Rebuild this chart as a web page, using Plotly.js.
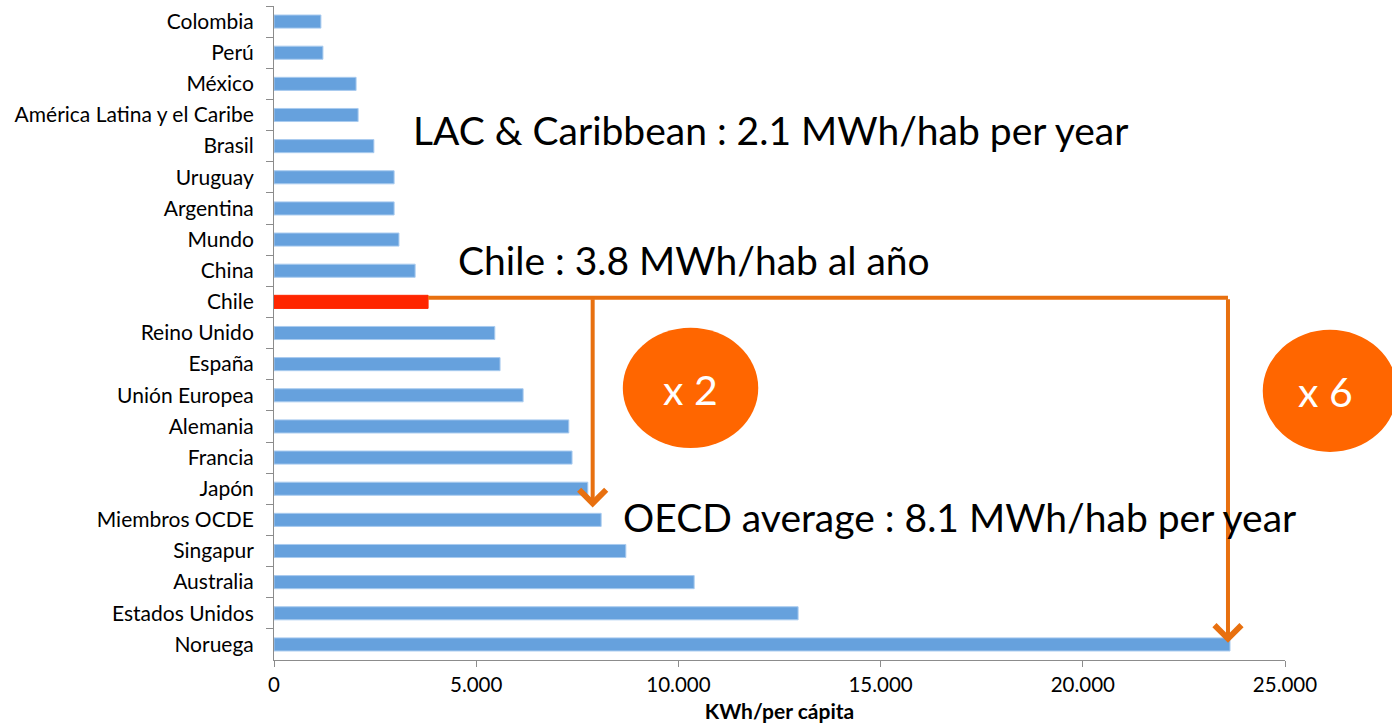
<!DOCTYPE html>
<html>
<head>
<meta charset="utf-8">
<script src="https://cdn.plot.ly/plotly-3.0.1.min.js"></script>
<style>html,body{margin:0;padding:0;background:#fff;}#chart{width:1392px;height:725px;}</style>
</head>
<body>
<div id="chart"></div>
<script>
const categories = ["Colombia","Perú","México","América Latina y el Caribe","Brasil","Uruguay","Argentina","Mundo","China","Chile","Reino Unido","España","Unión Europea","Alemania","Francia","Japón","Miembros OCDE","Singapur","Australia","Estados Unidos","Noruega"];
const kwhPerCapita = [1160,1210,2030,2080,2470,2970,2970,3090,3490,3810,5460,5590,6160,7290,7370,7760,8090,8700,10390,12960,23640];
const highlight = "Chile";
const xTickValues = [0,5000,10000,15000,20000,25000];

const FONT = "Lato, 'Open Sans', sans-serif";
const barColors = categories.map(c => c === highlight ? "#FF2600" : "#66A1DD");
const lineColors = categories.map(c => c === highlight ? "#FF2600" : "#A9CBEF");
const ORANGE = "#E8700F";
const chileIdx = categories.indexOf(highlight);
const chileVal = kwhPerCapita[chileIdx];
const oecdIdx = categories.indexOf("Miembros OCDE");
const norIdx = categories.indexOf("Noruega");
const lineY = chileIdx - 0.13;

const trace = {
  type: "bar",
  orientation: "h",
  y: categories,
  x: kwhPerCapita,
  width: 0.42,
  marker: {color: barColors, line: {color: lineColors, width: 1}},
  hoverinfo: "x+y"
};

const layout = {
  width: 1392, height: 725,
  margin: {l: 274, r: 107, t: 6, b: 65},
  paper_bgcolor: "#fff", plot_bgcolor: "#fff",
  separators: ",.",
  showlegend: false,
  font: {family: FONT, color: "#000"},
  xaxis: {
    range: [0, 25000], tickvals: xTickValues, tickformat: ",d",
    showgrid: false, zeroline: false, showline: true, linecolor: "#8C8C8C", linewidth: 1,
    ticks: "outside", ticklen: 6, tickcolor: "#8C8C8C",
    tickfont: {size: 20.5, family: FONT},
    title: {text: "<b>KWh/per cápita</b>", font: {size: 21, family: FONT}, standoff: 9},
    fixedrange: true
  },
  yaxis: {
    type: "category", categoryorder: "array", categoryarray: categories,
    autorange: "reversed",
    showgrid: false, zeroline: false, showline: true, linecolor: "#8C8C8C", linewidth: 1,
    ticks: "outside", ticklen: 7, tickcolor: "#8C8C8C", tickson: "boundaries",
    tickfont: {size: 21, family: FONT},
    ticklabelstandoff: 15,
    fixedrange: true
  },
  shapes: [
    {type: "line", xref: "x", yref: "y", x0: chileVal, x1: 23590, y0: lineY, y1: lineY,
     line: {color: ORANGE, width: 4}},
    {type: "circle", xref: "paper", yref: "paper", x0: 0.345, x1: 0.479, y0: 0.324, y1: 0.508,
     fillcolor: "#FF6600", line: {width: 0}},
    {type: "circle", xref: "paper", yref: "paper", x0: 0.978, x1: 1.111, y0: 0.318, y1: 0.505,
     fillcolor: "#FF6600", line: {width: 0}}
  ],
  annotations: [
    {xref: "x", yref: "y", axref: "x", ayref: "y", x: 7880, y: oecdIdx - 0.4, ax: 7880, ay: lineY,
     showarrow: true, arrowhead: 4, arrowsize: 1.3, arrowwidth: 4, arrowcolor: ORANGE, text: ""},
    {xref: "x", yref: "y", axref: "x", ayref: "y", x: 23590, y: norIdx - 0.05, ax: 23590, ay: lineY,
     showarrow: true, arrowhead: 4, arrowsize: 1.3, arrowwidth: 4, arrowcolor: ORANGE, text: ""},
    {xref: "paper", yref: "paper", x: 0.136, y: 0.810, xanchor: "left", yanchor: "middle", showarrow: false,
     text: "LAC & Caribbean : 2.1 MWh/hab per year", font: {size: 39, family: FONT, color: "#000"}},
    {xref: "paper", yref: "paper", x: 0.180, y: 0.612, xanchor: "left", yanchor: "middle", showarrow: false,
     text: "Chile : 3.8 MWh/hab al año", font: {size: 39, family: FONT, color: "#000"}},
    {xref: "paper", yref: "paper", x: 0.343, y: 0.219, xanchor: "left", yanchor: "middle", showarrow: false,
     text: "OECD average : 8.1 MWh/hab per year", font: {size: 39, family: FONT, color: "#000"}},
    {xref: "paper", yref: "paper", x: 0.412, y: 0.413, xanchor: "center", yanchor: "middle", showarrow: false,
     text: "x 2", font: {size: 41, family: FONT, color: "#fff"}},
    {xref: "paper", yref: "paper", x: 1.040, y: 0.410, xanchor: "center", yanchor: "middle", showarrow: false,
     text: "x 6", font: {size: 41, family: FONT, color: "#fff"}}
  ]
};

Plotly.newPlot("chart", [trace], layout, {displayModeBar: false, staticPlot: true});
</script>
</body>
</html>
